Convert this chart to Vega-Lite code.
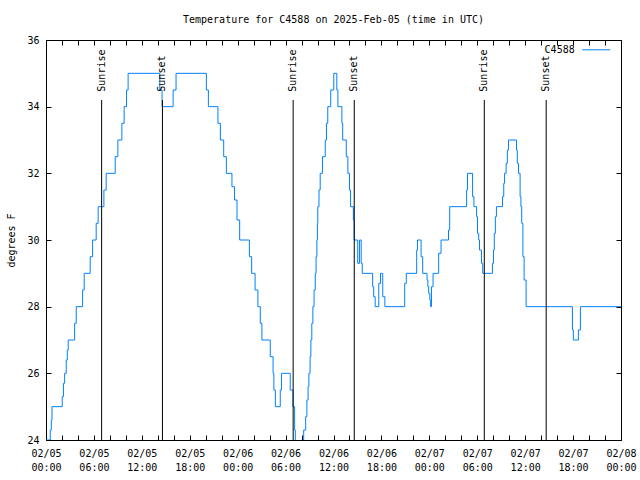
{
  "$schema": "https://vega.github.io/schema/vega-lite/v6.json",
  "width": 575,
  "height": 400,
  "autosize": {"type": "none"},
  "padding": {"left": 46, "top": 40, "right": 19, "bottom": 40},
  "background": "white",
  "title": {"text": "Temperature for C4588 on 2025-Feb-05 (time in UTC)", "font": "DejaVu Sans Mono", "fontSize": 10, "fontWeight": "normal", "color": "black", "offset": 10, "anchor": "middle"},
  "config": {
    "view": {"stroke": "black", "strokeWidth": 1},
    "font": "DejaVu Sans Mono",
    "axis": {"domain": false, "grid": false, "ticks": true, "labelFont": "DejaVu Sans Mono", "labelFontSize": 10, "labelColor": "black", "tickColor": "black", "tickWidth": 1, "tickSize": 5, "offset": -5, "labelPadding": 7, "labelFlush": false, "labelOverlap": false, "labelBound": false, "titleFont": "DejaVu Sans Mono", "titleFontSize": 10, "titleFontWeight": "normal", "titleColor": "black"}
  },
  "datasets": {
    "temps": [
      {"time": "2025-02-05T00:00:00Z", "temp": 24, "station": "C4588"},
      {"time": "2025-02-05T00:32:00Z", "temp": 24.3, "station": "C4588"},
      {"time": "2025-02-05T00:40:00Z", "temp": 24.6, "station": "C4588"},
      {"time": "2025-02-05T00:45:00Z", "temp": 25, "station": "C4588"},
      {"time": "2025-02-05T02:02:00Z", "temp": 25.3, "station": "C4588"},
      {"time": "2025-02-05T02:11:00Z", "temp": 25.7, "station": "C4588"},
      {"time": "2025-02-05T02:20:00Z", "temp": 26, "station": "C4588"},
      {"time": "2025-02-05T02:32:00Z", "temp": 26.4, "station": "C4588"},
      {"time": "2025-02-05T02:40:00Z", "temp": 26.7, "station": "C4588"},
      {"time": "2025-02-05T02:47:00Z", "temp": 27, "station": "C4588"},
      {"time": "2025-02-05T03:35:00Z", "temp": 27.5, "station": "C4588"},
      {"time": "2025-02-05T03:47:00Z", "temp": 28, "station": "C4588"},
      {"time": "2025-02-05T04:35:00Z", "temp": 28.5, "station": "C4588"},
      {"time": "2025-02-05T04:47:00Z", "temp": 29, "station": "C4588"},
      {"time": "2025-02-05T05:32:00Z", "temp": 29.5, "station": "C4588"},
      {"time": "2025-02-05T05:50:00Z", "temp": 30, "station": "C4588"},
      {"time": "2025-02-05T06:17:00Z", "temp": 30.5, "station": "C4588"},
      {"time": "2025-02-05T06:32:00Z", "temp": 31, "station": "C4588"},
      {"time": "2025-02-05T07:15:00Z", "temp": 31.5, "station": "C4588"},
      {"time": "2025-02-05T07:32:00Z", "temp": 32, "station": "C4588"},
      {"time": "2025-02-05T08:40:00Z", "temp": 32.5, "station": "C4588"},
      {"time": "2025-02-05T09:00:00Z", "temp": 33, "station": "C4588"},
      {"time": "2025-02-05T09:30:00Z", "temp": 33.5, "station": "C4588"},
      {"time": "2025-02-05T09:47:00Z", "temp": 34, "station": "C4588"},
      {"time": "2025-02-05T10:05:00Z", "temp": 34.5, "station": "C4588"},
      {"time": "2025-02-05T10:17:00Z", "temp": 35, "station": "C4588"},
      {"time": "2025-02-05T14:15:00Z", "temp": 34.5, "station": "C4588"},
      {"time": "2025-02-05T14:32:00Z", "temp": 34, "station": "C4588"},
      {"time": "2025-02-05T15:55:00Z", "temp": 34.5, "station": "C4588"},
      {"time": "2025-02-05T16:17:00Z", "temp": 35, "station": "C4588"},
      {"time": "2025-02-05T20:05:00Z", "temp": 34.5, "station": "C4588"},
      {"time": "2025-02-05T20:20:00Z", "temp": 34, "station": "C4588"},
      {"time": "2025-02-05T21:32:00Z", "temp": 33.5, "station": "C4588"},
      {"time": "2025-02-05T21:50:00Z", "temp": 33, "station": "C4588"},
      {"time": "2025-02-05T22:15:00Z", "temp": 32.5, "station": "C4588"},
      {"time": "2025-02-05T22:35:00Z", "temp": 32, "station": "C4588"},
      {"time": "2025-02-05T23:17:00Z", "temp": 31.6, "station": "C4588"},
      {"time": "2025-02-05T23:36:00Z", "temp": 31.2, "station": "C4588"},
      {"time": "2025-02-05T23:55:00Z", "temp": 30.6, "station": "C4588"},
      {"time": "2025-02-06T00:15:00Z", "temp": 30, "station": "C4588"},
      {"time": "2025-02-06T01:28:00Z", "temp": 29.5, "station": "C4588"},
      {"time": "2025-02-06T01:45:00Z", "temp": 29, "station": "C4588"},
      {"time": "2025-02-06T02:11:00Z", "temp": 28.5, "station": "C4588"},
      {"time": "2025-02-06T02:32:00Z", "temp": 28, "station": "C4588"},
      {"time": "2025-02-06T02:50:00Z", "temp": 27.5, "station": "C4588"},
      {"time": "2025-02-06T03:02:00Z", "temp": 27, "station": "C4588"},
      {"time": "2025-02-06T04:05:00Z", "temp": 26.5, "station": "C4588"},
      {"time": "2025-02-06T04:26:00Z", "temp": 26, "station": "C4588"},
      {"time": "2025-02-06T04:32:00Z", "temp": 25.5, "station": "C4588"},
      {"time": "2025-02-06T04:43:00Z", "temp": 25, "station": "C4588"},
      {"time": "2025-02-06T05:20:00Z", "temp": 25.5, "station": "C4588"},
      {"time": "2025-02-06T05:29:00Z", "temp": 26, "station": "C4588"},
      {"time": "2025-02-06T06:35:00Z", "temp": 25.5, "station": "C4588"},
      {"time": "2025-02-06T06:55:00Z", "temp": 25, "station": "C4588"},
      {"time": "2025-02-06T07:08:00Z", "temp": 24.3, "station": "C4588"},
      {"time": "2025-02-06T07:13:00Z", "temp": 23.5, "station": "C4588"},
      {"time": "2025-02-06T08:16:00Z", "temp": 24.3, "station": "C4588"},
      {"time": "2025-02-06T08:31:00Z", "temp": 24.7, "station": "C4588"},
      {"time": "2025-02-06T08:40:00Z", "temp": 25.2, "station": "C4588"},
      {"time": "2025-02-06T08:49:00Z", "temp": 25.6, "station": "C4588"},
      {"time": "2025-02-06T08:55:00Z", "temp": 26, "station": "C4588"},
      {"time": "2025-02-06T09:04:00Z", "temp": 26.5, "station": "C4588"},
      {"time": "2025-02-06T09:10:00Z", "temp": 27, "station": "C4588"},
      {"time": "2025-02-06T09:17:00Z", "temp": 27.5, "station": "C4588"},
      {"time": "2025-02-06T09:25:00Z", "temp": 28, "station": "C4588"},
      {"time": "2025-02-06T09:34:00Z", "temp": 28.5, "station": "C4588"},
      {"time": "2025-02-06T09:43:00Z", "temp": 29, "station": "C4588"},
      {"time": "2025-02-06T09:49:00Z", "temp": 29.5, "station": "C4588"},
      {"time": "2025-02-06T09:55:00Z", "temp": 30, "station": "C4588"},
      {"time": "2025-02-06T09:59:00Z", "temp": 30.5, "station": "C4588"},
      {"time": "2025-02-06T10:02:00Z", "temp": 31, "station": "C4588"},
      {"time": "2025-02-06T10:11:00Z", "temp": 31.5, "station": "C4588"},
      {"time": "2025-02-06T10:20:00Z", "temp": 32, "station": "C4588"},
      {"time": "2025-02-06T10:37:00Z", "temp": 32.5, "station": "C4588"},
      {"time": "2025-02-06T10:58:00Z", "temp": 33, "station": "C4588"},
      {"time": "2025-02-06T11:07:00Z", "temp": 33.5, "station": "C4588"},
      {"time": "2025-02-06T11:17:00Z", "temp": 34, "station": "C4588"},
      {"time": "2025-02-06T11:39:00Z", "temp": 34.5, "station": "C4588"},
      {"time": "2025-02-06T12:02:00Z", "temp": 35, "station": "C4588"},
      {"time": "2025-02-06T12:25:00Z", "temp": 34.5, "station": "C4588"},
      {"time": "2025-02-06T12:33:00Z", "temp": 34, "station": "C4588"},
      {"time": "2025-02-06T13:03:00Z", "temp": 33.5, "station": "C4588"},
      {"time": "2025-02-06T13:09:00Z", "temp": 33, "station": "C4588"},
      {"time": "2025-02-06T13:36:00Z", "temp": 32.5, "station": "C4588"},
      {"time": "2025-02-06T13:48:00Z", "temp": 32, "station": "C4588"},
      {"time": "2025-02-06T14:00:00Z", "temp": 31.5, "station": "C4588"},
      {"time": "2025-02-06T14:08:00Z", "temp": 31, "station": "C4588"},
      {"time": "2025-02-06T14:29:00Z", "temp": 30.6, "station": "C4588"},
      {"time": "2025-02-06T14:35:00Z", "temp": 30, "station": "C4588"},
      {"time": "2025-02-06T15:02:00Z", "temp": 29.3, "station": "C4588"},
      {"time": "2025-02-06T15:15:00Z", "temp": 30, "station": "C4588"},
      {"time": "2025-02-06T15:28:00Z", "temp": 29.3, "station": "C4588"},
      {"time": "2025-02-06T15:36:00Z", "temp": 29, "station": "C4588"},
      {"time": "2025-02-06T16:54:00Z", "temp": 28.6, "station": "C4588"},
      {"time": "2025-02-06T17:02:00Z", "temp": 28.3, "station": "C4588"},
      {"time": "2025-02-06T17:13:00Z", "temp": 28, "station": "C4588"},
      {"time": "2025-02-06T17:40:00Z", "temp": 28.7, "station": "C4588"},
      {"time": "2025-02-06T17:53:00Z", "temp": 29, "station": "C4588"},
      {"time": "2025-02-06T18:10:00Z", "temp": 28.3, "station": "C4588"},
      {"time": "2025-02-06T18:26:00Z", "temp": 28, "station": "C4588"},
      {"time": "2025-02-06T20:55:00Z", "temp": 28.7, "station": "C4588"},
      {"time": "2025-02-06T21:07:00Z", "temp": 29, "station": "C4588"},
      {"time": "2025-02-06T22:25:00Z", "temp": 29.7, "station": "C4588"},
      {"time": "2025-02-06T22:31:00Z", "temp": 30, "station": "C4588"},
      {"time": "2025-02-06T22:58:00Z", "temp": 29.5, "station": "C4588"},
      {"time": "2025-02-06T23:10:00Z", "temp": 29, "station": "C4588"},
      {"time": "2025-02-06T23:43:00Z", "temp": 28.8, "station": "C4588"},
      {"time": "2025-02-06T23:49:00Z", "temp": 28.6, "station": "C4588"},
      {"time": "2025-02-06T23:55:00Z", "temp": 28.4, "station": "C4588"},
      {"time": "2025-02-07T00:04:00Z", "temp": 28.2, "station": "C4588"},
      {"time": "2025-02-07T00:10:00Z", "temp": 28, "station": "C4588"},
      {"time": "2025-02-07T00:16:00Z", "temp": 28.6, "station": "C4588"},
      {"time": "2025-02-07T00:28:00Z", "temp": 29, "station": "C4588"},
      {"time": "2025-02-07T01:10:00Z", "temp": 29.6, "station": "C4588"},
      {"time": "2025-02-07T01:28:00Z", "temp": 30, "station": "C4588"},
      {"time": "2025-02-07T02:24:00Z", "temp": 30.3, "station": "C4588"},
      {"time": "2025-02-07T02:33:00Z", "temp": 31, "station": "C4588"},
      {"time": "2025-02-07T04:40:00Z", "temp": 31.5, "station": "C4588"},
      {"time": "2025-02-07T04:47:00Z", "temp": 32, "station": "C4588"},
      {"time": "2025-02-07T05:25:00Z", "temp": 31.3, "station": "C4588"},
      {"time": "2025-02-07T05:35:00Z", "temp": 31, "station": "C4588"},
      {"time": "2025-02-07T05:55:00Z", "temp": 30.7, "station": "C4588"},
      {"time": "2025-02-07T06:02:00Z", "temp": 30.2, "station": "C4588"},
      {"time": "2025-02-07T06:11:00Z", "temp": 30, "station": "C4588"},
      {"time": "2025-02-07T06:17:00Z", "temp": 29.7, "station": "C4588"},
      {"time": "2025-02-07T06:32:00Z", "temp": 29.3, "station": "C4588"},
      {"time": "2025-02-07T06:41:00Z", "temp": 29, "station": "C4588"},
      {"time": "2025-02-07T07:54:00Z", "temp": 29.3, "station": "C4588"},
      {"time": "2025-02-07T08:02:00Z", "temp": 29.7, "station": "C4588"},
      {"time": "2025-02-07T08:08:00Z", "temp": 30.2, "station": "C4588"},
      {"time": "2025-02-07T08:16:00Z", "temp": 30.7, "station": "C4588"},
      {"time": "2025-02-07T08:24:00Z", "temp": 31, "station": "C4588"},
      {"time": "2025-02-07T09:10:00Z", "temp": 31.3, "station": "C4588"},
      {"time": "2025-02-07T09:19:00Z", "temp": 31.7, "station": "C4588"},
      {"time": "2025-02-07T09:25:00Z", "temp": 32, "station": "C4588"},
      {"time": "2025-02-07T09:37:00Z", "temp": 32.3, "station": "C4588"},
      {"time": "2025-02-07T09:46:00Z", "temp": 32.7, "station": "C4588"},
      {"time": "2025-02-07T09:55:00Z", "temp": 33, "station": "C4588"},
      {"time": "2025-02-07T10:55:00Z", "temp": 32.7, "station": "C4588"},
      {"time": "2025-02-07T11:01:00Z", "temp": 32.3, "station": "C4588"},
      {"time": "2025-02-07T11:10:00Z", "temp": 32, "station": "C4588"},
      {"time": "2025-02-07T11:22:00Z", "temp": 31.3, "station": "C4588"},
      {"time": "2025-02-07T11:28:00Z", "temp": 31, "station": "C4588"},
      {"time": "2025-02-07T11:34:00Z", "temp": 30.5, "station": "C4588"},
      {"time": "2025-02-07T11:43:00Z", "temp": 29.5, "station": "C4588"},
      {"time": "2025-02-07T11:52:00Z", "temp": 28.8, "station": "C4588"},
      {"time": "2025-02-07T12:07:00Z", "temp": 28, "station": "C4588"},
      {"time": "2025-02-07T17:55:00Z", "temp": 27.3, "station": "C4588"},
      {"time": "2025-02-07T18:02:00Z", "temp": 27, "station": "C4588"},
      {"time": "2025-02-07T18:40:00Z", "temp": 27.3, "station": "C4588"},
      {"time": "2025-02-07T18:55:00Z", "temp": 28, "station": "C4588"},
      {"time": "2025-02-08T00:00:00Z", "temp": 28, "station": "C4588"}
    ],
    "events": [
      {"time": "2025-02-05T06:58:00Z", "event": "Sunrise"},
      {"time": "2025-02-05T14:35:00Z", "event": "Sunset"},
      {"time": "2025-02-06T06:57:00Z", "event": "Sunrise"},
      {"time": "2025-02-06T14:36:00Z", "event": "Sunset"},
      {"time": "2025-02-07T06:53:00Z", "event": "Sunrise"},
      {"time": "2025-02-07T14:38:00Z", "event": "Sunset"}
    ]
  },
  "layer": [
    {
      "data": {"name": "temps"},
      "mark": {"type": "line", "interpolate": "step-after", "strokeWidth": 1, "clip": true},
      "encoding": {
        "x": {"field": "time", "type": "temporal",
          "scale": {"type": "utc", "domain": [1738713600000, 1738972800000]},
          "axis": {"orient": "bottom", "title": null, "values": [1738713600000, 1738720800000, 1738728000000, 1738735200000, 1738742400000, 1738749600000, 1738756800000, 1738764000000, 1738771200000, 1738778400000, 1738785600000, 1738792800000, 1738800000000, 1738807200000, 1738814400000, 1738821600000, 1738828800000, 1738836000000, 1738843200000, 1738850400000, 1738857600000, 1738864800000, 1738872000000, 1738879200000, 1738886400000, 1738893600000, 1738900800000, 1738908000000, 1738915200000, 1738922400000, 1738929600000, 1738936800000, 1738944000000, 1738951200000, 1738958400000, 1738965600000, 1738972800000], "labelPadding": 8, "labelLineHeight": 14, "labelBaseline": "top",
            "labelExpr": "utchours(datum.value) % 6 == 0 ? [utcFormat(datum.value, '%m/%d'), utcFormat(datum.value, '%H:%M')] : ''"}},
        "y": {"field": "temp", "type": "quantitative",
          "scale": {"domain": [24, 36], "nice": false, "zero": false},
          "axis": {"orient": "left", "title": "degrees F", "values": [24, 26, 28, 30, 32, 34, 36], "titlePadding": 10}},
        "color": {"field": "station", "type": "nominal", "scale": {"range": ["#0080ff"]},
          "legend": {"title": null, "orient": "none", "legendX": 535.7, "legendY": -4.7, "symbolType": "stroke", "symbolSize": 784, "symbolStrokeWidth": 1, "labelAlign": "right", "labelOffset": -36, "labelFont": "DejaVu Sans Mono", "labelFontSize": 10, "labelColor": "black", "padding": 0}}
      }
    },
    {
      "data": {"name": "events"},
      "mark": {"type": "rule", "color": "black", "strokeWidth": 1},
      "encoding": {
        "x": {"field": "time", "type": "temporal",
          "axis": {"orient": "top", "labels": false, "title": null, "values": [1738713600000, 1738720800000, 1738728000000, 1738735200000, 1738742400000, 1738749600000, 1738756800000, 1738764000000, 1738771200000, 1738778400000, 1738785600000, 1738792800000, 1738800000000, 1738807200000, 1738814400000, 1738821600000, 1738828800000, 1738836000000, 1738843200000, 1738850400000, 1738857600000, 1738864800000, 1738872000000, 1738879200000, 1738886400000, 1738893600000, 1738900800000, 1738908000000, 1738915200000, 1738922400000, 1738929600000, 1738936800000, 1738944000000, 1738951200000, 1738958400000, 1738965600000, 1738972800000]}},
        "y": {"datum": 24, "type": "quantitative",
          "axis": {"orient": "right", "labels": false, "title": null, "values": [24, 26, 28, 30, 32, 34, 36]}},
        "y2": {"datum": 34.2}
      }
    },
    {
      "data": {"name": "events"},
      "mark": {"type": "text", "angle": 270, "align": "left", "baseline": "middle", "font": "DejaVu Sans Mono", "fontSize": 10, "color": "black"},
      "encoding": {
        "x": {"field": "time", "type": "temporal", "axis": null},
        "y": {"datum": 34.45, "type": "quantitative", "axis": null},
        "text": {"field": "event"}
      }
    }
  ],
  "resolve": {"axis": {"x": "independent", "y": "independent"}}
}
